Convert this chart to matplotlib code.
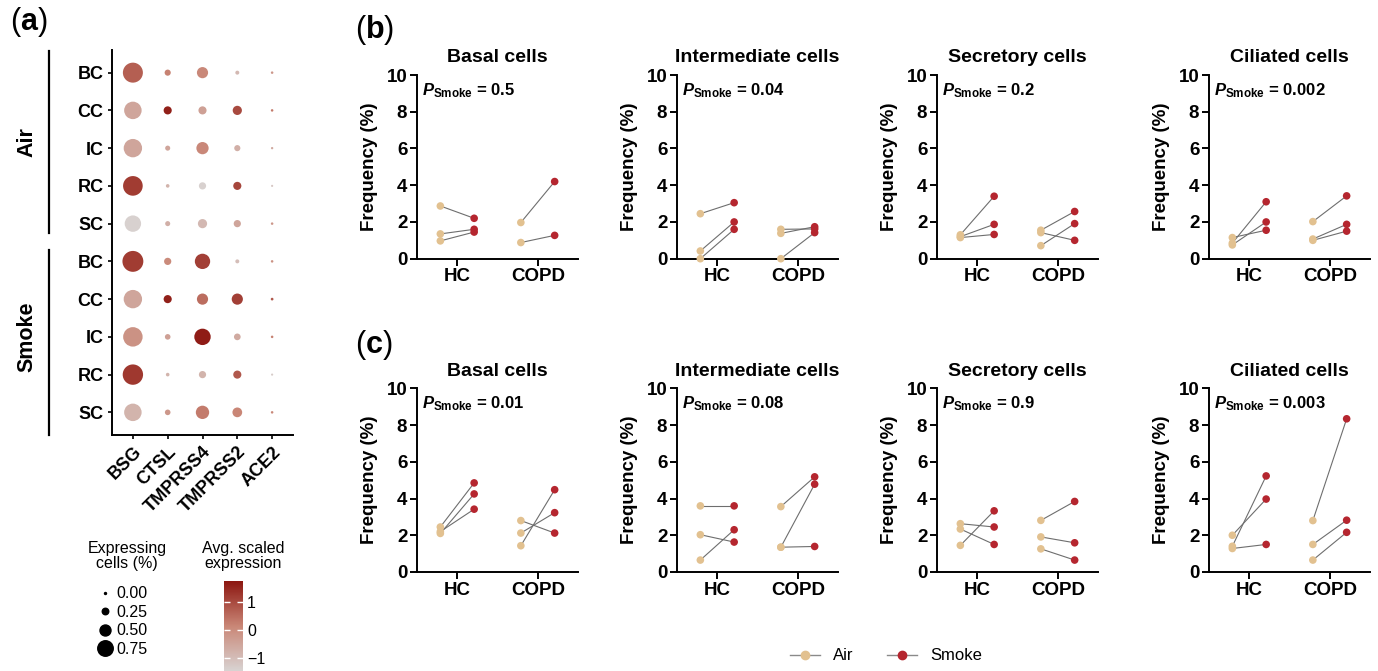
import matplotlib
matplotlib.use("Agg")
import matplotlib.pyplot as plt
from matplotlib.colors import LinearSegmentedColormap, Normalize
from matplotlib.cm import ScalarMappable
from matplotlib.lines import Line2D

plt.rcParams["font.family"] = ["Liberation Sans", "DejaVu Sans"]
plt.rcParams["font.weight"] = "bold"
plt.rcParams["axes.labelweight"] = "bold"
plt.rcParams["axes.titleweight"] = "bold"
plt.rcParams["mathtext.fontset"] = "custom"
plt.rcParams["mathtext.it"] = "Liberation Sans:italic:bold"
plt.rcParams["mathtext.rm"] = "Liberation Sans:bold"
plt.rcParams["mathtext.bf"] = "Liberation Sans:bold"

# ---- panel (a): dot plot data ----
genes = ["BSG", "CTSL", "TMPRSS4", "TMPRSS2", "ACE2"]
cell_rows = ["BC", "CC", "IC", "RC", "SC"]
groups = ["Air", "Smoke"]

# fraction of expressing cells (rows: BC, CC, IC, RC, SC; cols: genes)
pct_air = [
    [1.00, 0.23, 0.51, 0.11, 0.03],
    [0.86, 0.34, 0.34, 0.40, 0.03],
    [0.91, 0.17, 0.57, 0.23, 0.02],
    [0.98, 0.09, 0.29, 0.34, 0.01],
    [0.80, 0.17, 0.40, 0.29, 0.03],
]
pct_smoke = [
    [1.05, 0.29, 0.74, 0.11, 0.03],
    [0.91, 0.34, 0.51, 0.51, 0.04],
    [0.97, 0.20, 0.80, 0.26, 0.03],
    [1.02, 0.09, 0.29, 0.34, 0.01],
    [0.86, 0.20, 0.63, 0.43, 0.03],
]
# average scaled expression
expr_air = [
    [0.70, 0.20, 0.10, -0.90, -0.20],
    [-0.50, 1.60, -0.40, 1.00, 0.30],
    [-0.50, -0.50, 0.10, -0.70, -0.60],
    [1.20, -0.80, -1.40, 1.05, -1.20],
    [-1.40, -0.70, -0.90, -0.50, -0.20],
]
expr_smoke = [
    [1.20, 0.05, 1.15, -1.00, -0.10],
    [-0.50, 1.60, 0.50, 1.15, 0.80],
    [-0.10, -0.40, 1.65, -0.60, 0.20],
    [1.25, -0.80, -0.80, 0.80, -1.30],
    [-0.80, -0.20, 0.30, 0.15, 0.10],
]
size_legend_vals = [0.00, 0.25, 0.50, 0.75]

# ---- panels (b), (c): paired frequencies ----
cell_types = ["Basal cells", "Intermediate cells", "Secretory cells", "Ciliated cells"]
p_b = ["0.5", "0.04", "0.2", "0.002"]
p_c = ["0.01", "0.08", "0.9", "0.003"]

b_hc_air = [[2.87, 1.35, 0.97], [2.45, 0.42, 0.0], [1.30, 1.20, 1.15], [1.15, 0.85, 0.75]]
b_hc_smoke = [[2.20, 1.60, 1.45], [3.05, 2.00, 1.60], [3.40, 1.87, 1.32], [1.55, 3.10, 2.00]]
b_copd_air = [[1.97, 0.88], [1.60, 1.38, 0.0], [1.55, 1.42, 0.71], [2.02, 1.07, 1.00]]
b_copd_smoke = [[4.20, 1.27], [1.62, 1.74, 1.42], [2.57, 1.00, 1.91], [3.42, 1.87, 1.50]]

c_hc_air = [[2.45, 2.10, 2.20], [3.60, 2.03, 0.65], [2.63, 2.34, 1.45], [1.40, 2.00, 1.28]]
c_hc_smoke = [[4.85, 4.25, 3.42], [3.60, 1.63, 2.30], [2.45, 1.50, 3.33], [5.23, 3.97, 1.50]]
c_copd_air = [[2.80, 2.12, 1.43], [3.56, 1.35, 1.35], [2.81, 1.91, 1.26], [2.80, 1.50, 0.65]]
c_copd_smoke = [[2.12, 3.23, 4.48], [5.18, 4.78, 1.39], [3.84, 1.59, 0.65], [8.34, 2.82, 2.16]]

conditions = ["HC", "COPD"]

AIR_COLOR = "#e2c190"
SMOKE_COLOR = "#b5262f"
LINE_COLOR = "#6e6e6e"

W, H = 1378, 671
fig = plt.figure(figsize=(W / 100, H / 100), dpi=100)


def frac_rect(x0, y0, x1, y1):
    """pixel box (top-left origin) -> figure fraction rect"""
    return [x0 / W, 1 - y1 / H, (x1 - x0) / W, (y1 - y0) / H]


def dot_size(p):
    d_px = 2 + 18 * p
    return (d_px * 0.72) ** 2


# ---------------- panel (a) ----------------
cmap = LinearSegmentedColormap.from_list("gr", ["#d8d3d2", "#c98676", "#8c1610"])
norm = Normalize(vmin=-1.46, vmax=1.75)

ax = fig.add_axes(frac_rect(112, 50, 293, 435))
ylabels = []
for gi, (pct, expr) in enumerate([(pct_air, expr_air), (pct_smoke, expr_smoke)]):
    for ri, row in enumerate(cell_rows):
        yy = gi * len(cell_rows) + ri
        ylabels.append(row)
        ax.scatter(range(len(genes)), [yy] * len(genes),
                   s=[dot_size(p) for p in pct[ri]], c=expr[ri],
                   cmap=cmap, norm=norm, edgecolors="none")
ax.set_xlim(-0.6, 4.6)
ax.set_ylim(9.6, -0.6)
ax.set_xticks(range(len(genes)))
ax.set_xticklabels(genes, rotation=45, ha="right", rotation_mode="anchor", fontsize=13)
ax.set_yticks(range(len(ylabels)))
ax.set_yticklabels(ylabels, fontsize=13)
for s in ["top", "right"]:
    ax.spines[s].set_visible(False)
for s in ["left", "bottom"]:
    ax.spines[s].set_linewidth(1.4)
ax.tick_params(length=3, width=1.2, pad=3)

# group brackets
ax.plot([-0.35, -0.35], [-0.58, 4.26], color="black", lw=1.6,
        transform=ax.get_yaxis_transform(), clip_on=False)
ax.plot([-0.35, -0.35], [4.71, 9.6], color="black", lw=1.6,
        transform=ax.get_yaxis_transform(), clip_on=False)
ax.text(-0.47, 1.85, groups[0], rotation=90, ha="center", va="center",
        fontsize=15.5, transform=ax.get_yaxis_transform())
ax.text(-0.47, 7.0, groups[1], rotation=90, ha="center", va="center",
        fontsize=15.5, transform=ax.get_yaxis_transform())

# size legend
fig.text(127 / W, 1 - 556 / H, "Expressing\ncells (%)", ha="center", va="center",
         fontsize=11.5, fontweight="normal", linespacing=1.05)
size_handles = [Line2D([], [], marker="o", ls="", color="black",
                       markersize=(2 + 18 * v) * 0.72, label=f"{v:.2f}")
                for v in size_legend_vals]
leg = fig.legend(handles=size_handles, loc="upper left",
                 bbox_to_anchor=(86 / W, 1 - 575 / H),
                 frameon=False, fontsize=11.5,
                 labelspacing=0.22, handletextpad=0.2, handlelength=1.0,
                 borderpad=0.2)
for t in leg.get_texts():
    t.set_fontweight("normal")

# colorbar
cax = fig.add_axes(frac_rect(224, 581, 243, 671))
cb = fig.colorbar(ScalarMappable(norm=norm, cmap=cmap), cax=cax)
cb.outline.set_visible(False)
cb.set_ticks([-1, 0, 1])
cb.set_ticklabels(["\u22121", "0", "1"])
cax.tick_params(color="white", direction="in", length=4, width=1,
                left=True, right=True, labelsize=11.5, pad=3)
for t in cax.get_yticklabels():
    t.set_fontweight("normal")
fig.text(243 / W, 1 - 556 / H, "Avg. scaled\nexpression", ha="center", va="center",
         fontsize=11.5, fontweight="normal", linespacing=1.05)


# ---------------- panels (b) and (c) ----------------
col_left = [417, 677, 937, 1209]
rows = [
    (75, 258.7, p_b, b_hc_air, b_hc_smoke, b_copd_air, b_copd_smoke),
    (388.3, 572, p_c, c_hc_air, c_hc_smoke, c_copd_air, c_copd_smoke),
]
offset = 0.21
for top, bottom, pvals, hc_air, hc_smoke, copd_air, copd_smoke in rows:
    for k, left in enumerate(col_left):
        axp = fig.add_axes(frac_rect(left, top, left + 161, bottom))
        for xi, (air_vals, smoke_vals) in enumerate([(hc_air[k], hc_smoke[k]),
                                                       (copd_air[k], copd_smoke[k])]):
            for a, sm in zip(air_vals, smoke_vals):
                axp.plot([xi - offset, xi + offset], [a, sm], color=LINE_COLOR,
                         lw=0.8, zorder=1)
            axp.scatter([xi - offset] * len(air_vals), air_vals, s=30,
                        color=AIR_COLOR, edgecolors="none", zorder=3, clip_on=False)
            axp.scatter([xi + offset] * len(smoke_vals), smoke_vals, s=30,
                        color=SMOKE_COLOR, edgecolors="none", zorder=3, clip_on=False)
        axp.set_xlim(-0.5, 1.5)
        axp.set_ylim(0, 10)
        axp.set_yticks(range(0, 11, 2))
        axp.set_xticks(range(len(conditions)))
        axp.set_xticklabels(conditions)
        axp.tick_params(labelsize=13.5, length=5, width=1.4, pad=2)
        for s in ["top", "right"]:
            axp.spines[s].set_visible(False)
        for s in ["left", "bottom"]:
            axp.spines[s].set_linewidth(1.4)
        axp.set_title(cell_types[k], fontsize=14, pad=9)
        axp.set_ylabel("Frequency (%)", fontsize=13.5, labelpad=6)
        axp.text(0.03, 0.915, r"$P_{\mathrm{Smoke}}$ = " + pvals[k],
                 transform=axp.transAxes, fontsize=12, va="center", ha="left")

# panel labels
for lbl, x, y in [("a", 10, 22), ("b", 355, 30), ("c", 355, 345)]:
    fig.text(x / W, 1 - y / H, "(" + r"$\mathbf{" + lbl + "}$" + ")",
             fontsize=22, fontweight="normal", ha="left", va="center")

# bottom legend
pair_handles = [
    Line2D([], [], color="#8a8a8a", lw=1.0, marker="o", markersize=6,
           markerfacecolor=AIR_COLOR, markeredgecolor=AIR_COLOR, label="Air"),
    Line2D([], [], color="#8a8a8a", lw=1.0, marker="o", markersize=6,
           markerfacecolor=SMOKE_COLOR, markeredgecolor=SMOKE_COLOR, label="Smoke"),
]
leg2 = fig.legend(handles=pair_handles, loc="center", ncol=2,
                  bbox_to_anchor=(886 / W, 1 - 656 / H), frameon=False,
                  fontsize=12, handlelength=1.8, columnspacing=2.0,
                  handletextpad=0.8)
for t in leg2.get_texts():
    t.set_fontweight("normal")

fig.savefig("out.png", dpi=100)
